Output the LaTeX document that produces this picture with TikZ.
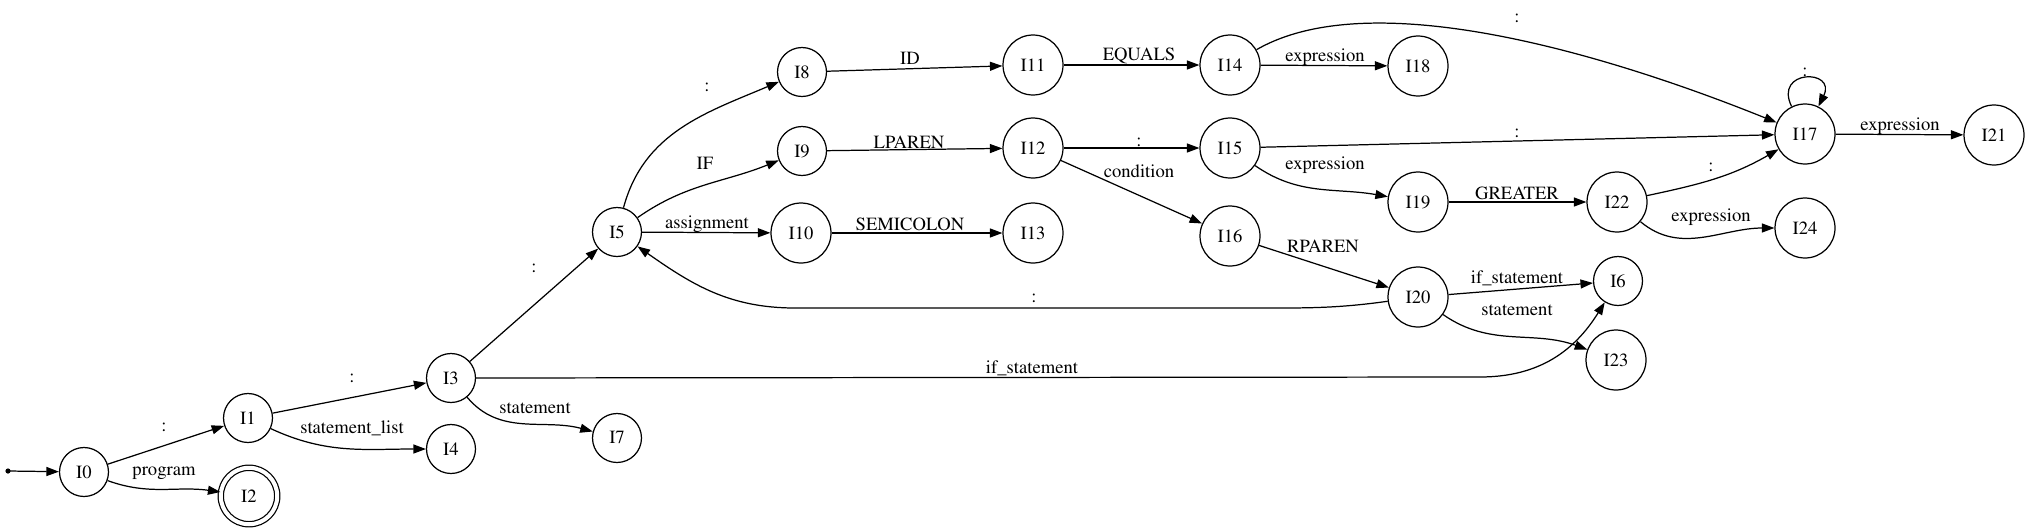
\documentclass[tikz,border=0pt]{standalone}
\usepackage[T1]{fontenc}
\usepackage{times}
\usepackage{tikz}
\usetikzlibrary{arrows.meta, positioning}

\tikzset{
  st/.style={circle, draw, line width=0.7pt, minimum size=0.98cm, inner sep=0pt},
  stw/.style={st, minimum size=1.2cm},
  acc/.style={st, double, double distance=0.08cm, minimum size=1.13cm},
  edge/.style={-{Triangle[length=0.25cm, width=0.18cm]}, line width=0.7pt},
  lbl/.style={inner sep=0pt}
}

\begin{document}
\begin{tikzpicture}[x=0.02cm, y=0.02cm, font=\fontsize{10.6}{12}\selectfont]
  \useasboundingbox (0,0) rectangle (2029,-531);

  % --- states ---
  \coordinate (start) at (8,-471);
  \fill (start) circle (2.6);
  \node[st] (I0) at (84,-472) {I0};
  \node[st] (I1) at (248,-418) {I1};
  \node[acc] (I2) at (249,-496) {I2};
  \node[st] (I3) at (451,-378) {I3};
  \node[st] (I4) at (451,-449) {I4};
  \node[st] (I5) at (617,-232) {I5};
  \node[st] (I7) at (617,-438) {I7};
  \node[st] (I8) at (802,-72) {I8};
  \node[st] (I9) at (802,-151) {I9};
  \node[stw] (I10) at (801,-233) {I10};
  \node[stw] (I11) at (1033,-65) {I11};
  \node[stw] (I12) at (1033,-148) {I12};
  \node[stw] (I13) at (1033,-233) {I13};
  \node[stw] (I14) at (1230,-65) {I14};
  \node[stw] (I15) at (1230,-148) {I15};
  \node[stw] (I16) at (1230,-236) {I16};
  \node[stw] (I18) at (1418,-66) {I18};
  \node[stw] (I19) at (1418,-202) {I19};
  \node[stw] (I20) at (1418,-297) {I20};
  \node[st] (I6) at (1618,-281) {I6};
  \node[stw] (I23) at (1616,-360) {I23};
  \node[stw] (I22) at (1617,-202) {I22};
  \node[stw] (I24) at (1805,-228) {I24};
  \node[stw] (I17) at (1805,-134) {I17};
  \node[stw] (I21) at (1994,-135) {I21};

  % --- bends ---
  \coordinate (b36) at (1480,-377);
  \coordinate (b205a) at (1250,-308);
  \coordinate (b205b) at (795,-308);

  % --- transitions ---
  \draw[edge] (start) -- (I0);
  \draw[edge] (I0) -- (I1);
  \draw[edge] (I0) to[out=-20, in=172] (I2);
  \draw[edge] (I1) -- (I3);
  \draw[edge] (I1) to[out=-25, in=180] (I4);
  \draw[edge] (I3) -- (I5);
  \draw[edge] (I3) to[out=-50, in=165] (I7);
  \draw[edge] (I3) -- (b36) .. controls (1540,-377) and (1575,-350) .. (I6);
  \draw[edge] (I5) to[out=75, in=-157] (I8);
  \draw[edge] (I5) to[out=35, in=-158] (I9);
  \draw[edge] (I5) -- (I10);
  \draw[edge] (I8) -- (I11);
  \draw[edge] (I9) -- (I12);
  \draw[edge] (I10) -- (I13);
  \draw[edge] (I11) -- (I14);
  \draw[edge] (I12) -- (I15);
  \draw[edge] (I12) -- (I16);
  \draw[edge] (I14) -- (I18);
  \draw[edge] (I14) to[out=30, in=158, looseness=0.7] (I17);
  \draw[edge] (I15) -- (I17);
  \draw[edge] (I15) to[out=-35, in=170] (I19);
  \draw[edge] (I16) -- (I20);
  \draw[edge] (I19) -- (I22);
  \draw[edge] (I22) to[out=12, in=-150] (I17);
  \draw[edge] (I22) to[out=-40, in=180] (I24);
  \draw[edge] (I17) to[out=116, in=64, looseness=4] (I17);
  \draw[edge] (I17) -- (I21);
  \draw[edge] (I20) -- (I6);
  \draw[edge] (I20) to[out=-35, in=160] (I23);
  \draw[edge] (I20) to[out=188, in=0] (b205a) -- (b205b) to[out=180, in=-35] (I5);

  % --- labels ---
  \node[lbl] (t01) at (164,-427) {:};
  \node[lbl] (t02) at (164,-473) {program};
  \node[lbl] (t13) at (352,-378) {:};
  \node[lbl] (t14) at (352,-428) {statement\_list};
  \node[lbl] (t35) at (534,-268) {:};
  \node[lbl] (t37) at (535,-408) {statement};
  \node[lbl] (t36) at (1032,-368) {if\_statement};
  \node[lbl] (t58) at (707,-87) {:};
  \node[lbl] (t59) at (705,-163) {IF};
  \node[lbl] (t510) at (707,-224) {assignment};
  \node[lbl] (t811) at (910,-58) {ID};
  \node[lbl] (t912) at (909,-142) {LPAREN};
  \node[lbl] (t1013) at (910,-224) {SEMICOLON};
  \node[lbl] (t1114) at (1139,-56) {EQUALS};
  \node[lbl] (t1215) at (1139,-142) {:};
  \node[lbl] (t1216) at (1139,-171) {condition};
  \node[lbl] (t1417) at (1517,-18) {:};
  \node[lbl] (t1418) at (1325,-57) {expression};
  \node[lbl] (t1717) at (1805,-72) {:};
  \node[lbl] (t1517) at (1517,-133) {:};
  \node[lbl] (t1519) at (1325,-165) {expression};
  \node[lbl] (t1922) at (1517,-193) {GREATER};
  \node[lbl] (t2217) at (1711,-167) {:};
  \node[lbl] (t2224) at (1711,-217) {expression};
  \node[lbl] (t1721) at (1900,-126) {expression};
  \node[lbl] (t1620) at (1323,-246) {RPAREN};
  \node[lbl] (t205) at (1034,-298) {:};
  \node[lbl] (t206) at (1517,-278) {if\_statement};
  \node[lbl] (t2023) at (1517,-310) {statement};
\end{tikzpicture}
\end{document}
